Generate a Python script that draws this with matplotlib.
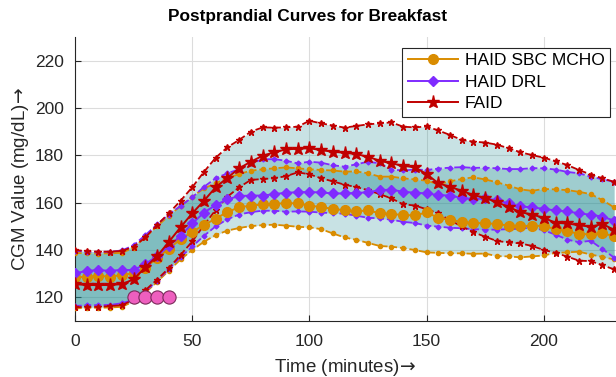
import matplotlib
matplotlib.use("Agg")
import matplotlib.pyplot as plt
import numpy as np

plt.rcParams["font.family"] = ["Liberation Sans", "DejaVu Sans"]

# time axis, minutes after the meal (5 min steps)
time_min = list(range(0, 235, 5))

# HAID SBC MCHO: mean and mean +/- std
sbc_mean = [128.4, 128.7, 129.0, 128.8, 129.4, 130.2, 132.6, 136.5, 140.6, 144.5,
            147.7, 150.5, 153.3, 156.0, 158.1, 158.7, 159.3, 159.5, 159.8, 159.7,
            158.8, 158.1, 157.4, 156.8, 156.4, 156.7, 155.6, 155.2, 154.8, 154.6,
            155.9, 153.6, 152.7, 151.9, 151.4, 151.3, 151.0, 150.3, 150.2, 150.1,
            150.3, 148.7, 148.1, 146.7, 146.7, 147.0, 145.9]
sbc_upper = [138.8, 138.6, 138.5, 138.6, 138.8, 141.0, 145.5, 150.0, 154.5, 158.5,
             162.5, 166.0, 168.2, 170.3, 172.1, 173.5, 174.1, 174.5, 174.9, 174.5,
             174.1, 173.8, 173.6, 173.1, 173.2, 172.4, 171.0, 171.0, 170.3, 169.8,
             169.3, 167.8, 169.0, 170.0, 170.7, 169.8, 168.6, 167.2, 165.6, 165.0,
             165.8, 165.6, 165.3, 164.6, 163.6, 161.1, 158.0]
sbc_lower = [115.3, 115.6, 115.6, 115.7, 116.0, 118.3, 122.0, 126.5, 131.3, 136.0,
             140.0, 143.5, 146.3, 148.2, 149.3, 150.1, 150.5, 150.7, 150.3, 149.8,
             149.6, 148.8, 147.0, 145.3, 144.3, 143.0, 141.7, 141.4, 140.8, 140.0,
             139.0, 138.8, 138.6, 138.6, 138.4, 138.5, 137.4, 137.3, 136.9, 137.3,
             137.7, 138.8, 139.0, 139.3, 138.1, 137.1, 136.0]

# HAID DRL
drl_mean = [130.1, 131.2, 131.5, 131.2, 131.6, 131.5, 134.1, 137.4, 141.7, 145.9,
            151.2, 155.8, 159.0, 161.4, 162.8, 163.0, 163.0, 163.6, 164.2, 164.4,
            164.5, 164.3, 163.9, 163.9, 164.1, 164.4, 165.3, 165.5, 164.6, 164.2,
            163.9, 163.2, 163.0, 162.0, 161.5, 161.8, 161.0, 159.7, 158.4, 158.0,
            157.4, 156.7, 156.3, 155.5, 154.9, 154.1, 152.4]
drl_upper = [139.7, 139.3, 139.2, 139.3, 139.8, 142.0, 146.3, 150.8, 155.0, 158.6,
             162.2, 166.7, 170.3, 172.4, 174.1, 176.6, 178.3, 178.4, 177.7, 176.6,
             177.3, 176.9, 175.8, 175.2, 176.2, 177.3, 176.6, 174.0, 173.6, 174.0,
             173.8, 174.4, 174.8, 175.0, 174.7, 174.8, 174.5, 174.2, 174.2, 174.6,
             174.5, 174.0, 173.0, 172.4, 171.0, 169.9, 168.8]
drl_lower = [116.3, 116.7, 116.7, 116.8, 117.5, 119.0, 122.5, 127.0, 132.0, 137.0,
             141.5, 146.0, 150.0, 153.0, 155.0, 156.0, 156.6, 156.6, 156.2, 156.3,
             156.2, 155.8, 155.6, 155.3, 154.5, 153.6, 153.4, 152.8, 151.9, 151.4,
             150.3, 149.9, 149.4, 149.2, 148.8, 148.6, 148.6, 148.8, 149.0, 149.5,
             148.3, 146.5, 144.4, 143.3, 143.9, 140.4, 136.8]

# FAID
faid_mean = [125.6, 125.2, 125.2, 125.2, 125.6, 127.6, 132.7, 137.4, 143.4, 149.6,
             155.5, 160.8, 166.5, 170.5, 174.5, 177.3, 179.8, 181.3, 182.5, 182.8,
             183.0, 182.2, 181.5, 181.1, 180.5, 179.4, 177.7, 176.6, 175.6, 174.9,
             172.1, 168.2, 166.7, 165.0, 163.2, 162.0, 160.2, 158.2, 156.0, 155.0,
             153.6, 151.5, 151.2, 150.5, 149.8, 151.0, 148.5]
faid_upper = [140.0, 139.5, 139.3, 139.3, 139.6, 141.4, 145.3, 150.6, 155.5, 160.8,
              166.5, 173.0, 179.0, 183.4, 186.5, 190.0, 191.8, 191.7, 191.8, 192.1,
              194.6, 193.5, 192.6, 191.7, 192.4, 193.1, 193.5, 193.9, 192.1, 191.8,
              192.2, 190.5, 188.6, 186.5, 185.8, 185.4, 184.5, 183.0, 181.3, 180.1,
              179.0, 177.5, 175.9, 173.8, 171.9, 170.3, 168.8]
faid_lower = [115.8, 116.0, 116.0, 116.3, 116.7, 119.0, 123.0, 127.5, 132.3, 137.9,
              143.6, 150.5, 156.9, 162.5, 166.5, 169.6, 170.0, 170.3, 171.2, 172.8,
              172.0, 170.3, 169.0, 167.6, 166.6, 165.3, 163.6, 161.8, 159.3, 158.8,
              157.2, 155.5, 152.5, 150.0, 147.5, 145.6, 143.8, 143.2, 142.8, 141.7,
              140.0, 138.8, 137.2, 135.5, 135.3, 133.6, 131.8]

# meal marker times
meal_times = [25, 30, 35, 40]
meal_level = [120, 120, 120, 120]

series = [
    ("HAID SBC MCHO", sbc_mean, sbc_upper, sbc_lower, "#D98C00", "o", 7, 3),
    ("HAID DRL", drl_mean, drl_upper, drl_lower, "#7F2BFF", "D", 5.5, 2.5),
    ("FAID", faid_mean, faid_upper, faid_lower, "#C00000", "*", 9.5, 4.5),
]

fig = plt.figure(figsize=(6.16, 3.77), dpi=100)
ax = fig.add_axes([0.1218, 0.1485, 0.8782, 0.7534])

t = np.array(time_min)
for _, mean, up, lo, color, mk, ms, ms_small in series:
    ax.fill_between(t, lo, up, color="#268f94", alpha=0.25, linewidth=0, zorder=1)

for name, mean, up, lo, color, mk, ms, ms_small in series:
    ax.plot(t, up, linestyle="--", color=color, marker=mk, markersize=ms_small,
            linewidth=1.3, zorder=3)
    ax.plot(t, lo, linestyle="--", color=color, marker=mk, markersize=ms_small,
            linewidth=1.3, zorder=3)

handles = []
for name, mean, up, lo, color, mk, ms, ms_small in series:
    h, = ax.plot(t, mean, linestyle="-", color=color, marker=mk, markersize=ms,
                 linewidth=1.4, label=name, zorder=4)
    handles.append(h)

ax.plot(meal_times, meal_level, linestyle="none", marker="o", markersize=9.5,
        markerfacecolor="#EE5FBF", markeredgecolor="#7a2a5a", markeredgewidth=0.8,
        zorder=5)

ax.set_xlim(0, 230.8)
ax.set_ylim(110, 230)
ax.set_xticks([0, 50, 100, 150, 200])
ax.set_yticks([120, 140, 160, 180, 200, 220])
ax.grid(True, color="#dcdcdc", linewidth=0.8)
ax.set_axisbelow(True)
for side in ["top", "right"]:
    ax.spines[side].set_visible(False)
for side in ["left", "bottom"]:
    ax.spines[side].set_color("#262626")
    ax.spines[side].set_linewidth(0.8)
ax.tick_params(direction="in", labelsize=12.5, colors="#262626", length=4,
               labelcolor="#262626")
ax.tick_params(axis="x", pad=9)
ax.tick_params(axis="y", pad=8)

ax.set_xlabel(r"Time (minutes)$\!\rightarrow$", fontsize=13.5, color="#262626",
              labelpad=6)
ax.set_ylabel(r"CGM Value (mg/dL)$\!\rightarrow$", fontsize=13.5, color="#262626",
              labelpad=3)
fig.suptitle("Postprandial Curves for Breakfast", x=0.5, y=0.975,
             fontsize=12.4, fontweight="bold")

leg = ax.legend(handles=handles, loc="upper right", bbox_to_anchor=(0.995, 0.975),
                fontsize=12.5, frameon=True, fancybox=False, edgecolor="#262626",
                framealpha=1, borderpad=0.3, labelspacing=0.38, handlelength=2.9,
                handletextpad=0.4, borderaxespad=0.2)
leg.get_frame().set_linewidth(0.8)

fig.savefig("out.png", dpi=100)
